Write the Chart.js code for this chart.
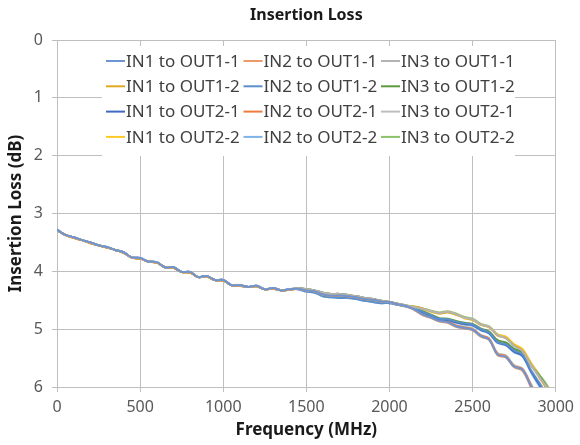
<!DOCTYPE html>
<html>
<head>
<meta charset="utf-8">
<script src="https://cdn.jsdelivr.net/npm/chart.js@4"></script>
<style>
  html, body { margin: 0; padding: 0; background: #fff; }
  #wrap { width: 580px; height: 445px; }
</style>
</head>
<body>
<div id="wrap"><canvas id="lossChart"></canvas></div>
<script>
const freq = [0,50,100,150,200,250,300,350,400,450,500,550,600,650,700,750,800,850,900,950,
  1000,1050,1100,1150,1200,1250,1300,1350,1400,1450,1500,1550,1600,1650,1700,1750,1800,1850,1900,1950,
  2000,2050,2100,2150,2200,2250,2300,2350,2400,2450,2500,2550,2600,2650,2700,2750,2800,2850,2900,2950,3000];

const seriesNames = [
  'IN1 to OUT1-1', 'IN2 to OUT1-1', 'IN3 to OUT1-1',
  'IN1 to OUT1-2', 'IN2 to OUT1-2', 'IN3 to OUT1-2',
  'IN1 to OUT2-1', 'IN2 to OUT2-1', 'IN3 to OUT2-1',
  'IN1 to OUT2-2', 'IN2 to OUT2-2', 'IN3 to OUT2-2'
];

const in1Out11 = [3.28,3.37,3.41,3.46,3.50,3.55,3.58,3.63,3.67,3.76,3.77,3.83,3.84,3.93,3.93,4.01,4.01,4.10,4.08,4.15,4.15,4.24,4.24,4.27,4.25,4.31,4.29,4.33,4.31,
  4.30,4.33,4.35,4.40,4.42,4.42,4.43,4.45,4.48,4.49,4.52,4.53,4.57,4.60,
  4.66,4.75,4.80,4.86,4.88,4.95,4.98,5.01,5.12,5.18,5.44,5.48,5.65,5.70,5.98,6.25,6.50,6.80];
const in2Out11 = [3.29,3.37,3.42,3.46,3.51,3.55,3.59,3.63,3.68,3.76,3.78,3.83,3.85,3.93,3.94,4.01,4.02,4.10,4.09,4.15,4.16,4.24,4.25,4.27,4.26,4.31,4.30,4.33,4.32,
  4.30,4.33,4.35,4.40,4.42,4.42,4.43,4.45,4.48,4.49,4.52,4.53,4.57,4.60,
  4.67,4.76,4.81,4.87,4.89,4.96,4.99,5.02,5.13,5.19,5.45,5.49,5.66,5.72,6.00,6.28,6.55,6.85];
const in3Out11 = [3.28,3.37,3.41,3.46,3.50,3.55,3.58,3.63,3.67,3.76,3.77,3.83,3.84,3.93,3.93,4.01,4.01,4.10,4.08,4.15,4.15,4.24,4.24,4.27,4.25,4.31,4.29,4.33,4.31,
  4.29,4.31,4.33,4.37,4.39,4.39,4.41,4.43,4.46,4.48,4.51,4.53,4.56,4.59,
  4.62,4.65,4.69,4.72,4.70,4.74,4.80,4.83,4.92,4.96,5.10,5.16,5.29,5.38,5.62,5.82,6.02,6.30];
const in1Out12 = [3.29,3.37,3.42,3.46,3.51,3.55,3.59,3.63,3.68,3.76,3.78,3.83,3.85,3.93,3.94,4.01,4.02,4.10,4.09,4.15,4.16,4.24,4.25,4.27,4.26,4.31,4.30,4.33,4.32,
  4.30,4.33,4.35,4.40,4.42,4.42,4.43,4.45,4.48,4.49,4.52,4.53,4.57,4.60,
  4.61,4.64,4.69,4.73,4.71,4.75,4.80,4.84,4.92,4.97,5.11,5.15,5.28,5.37,5.60,5.83,6.05,6.30];
const in2Out12 = [3.28,3.37,3.41,3.46,3.50,3.55,3.58,3.63,3.67,3.76,3.77,3.83,3.84,3.93,3.93,4.01,4.01,4.10,4.08,4.15,4.15,4.24,4.24,4.27,4.25,4.31,4.29,4.33,4.31,
  4.31,4.35,4.37,4.43,4.45,4.46,4.46,4.48,4.51,4.53,4.55,4.55,4.58,4.61,
  4.64,4.70,4.76,4.82,4.83,4.87,4.90,4.92,5.00,5.06,5.22,5.26,5.37,5.44,5.70,5.92,6.15,6.40];
const in3Out12 = [3.29,3.37,3.42,3.46,3.51,3.55,3.59,3.63,3.68,3.76,3.78,3.83,3.85,3.93,3.94,4.01,4.02,4.10,4.09,4.15,4.16,4.24,4.25,4.27,4.26,4.31,4.30,4.33,4.32,
  4.29,4.31,4.33,4.37,4.39,4.39,4.41,4.43,4.46,4.48,4.51,4.53,4.56,4.59,
  4.63,4.69,4.75,4.81,4.82,4.86,4.89,4.91,4.99,5.04,5.19,5.23,5.34,5.40,5.62,5.80,6.02,6.30];
const in1Out21 = [3.28,3.37,3.41,3.46,3.50,3.55,3.58,3.63,3.67,3.76,3.77,3.83,3.84,3.93,3.93,4.01,4.01,4.10,4.08,4.15,4.15,4.24,4.24,4.27,4.25,4.31,4.29,4.33,4.31,
  4.30,4.33,4.35,4.40,4.42,4.42,4.43,4.45,4.48,4.49,4.52,4.53,4.57,4.60,
  4.65,4.71,4.77,4.83,4.84,4.88,4.91,4.93,5.01,5.07,5.23,5.27,5.39,5.46,5.72,5.95,6.20,6.45];
const in2Out21 = [3.29,3.37,3.42,3.46,3.51,3.55,3.59,3.63,3.68,3.76,3.78,3.83,3.85,3.93,3.94,4.01,4.02,4.10,4.09,4.15,4.16,4.24,4.25,4.27,4.26,4.31,4.30,4.33,4.32,
  4.30,4.33,4.35,4.40,4.42,4.42,4.43,4.45,4.48,4.49,4.52,4.53,4.57,4.60,
  4.66,4.74,4.80,4.85,4.87,4.94,4.97,5.00,5.11,5.17,5.43,5.47,5.64,5.69,5.96,6.22,6.50,6.80];
const in3Out21 = [3.28,3.37,3.41,3.46,3.50,3.55,3.58,3.63,3.67,3.76,3.77,3.83,3.84,3.93,3.93,4.01,4.01,4.10,4.08,4.15,4.15,4.24,4.24,4.27,4.25,4.31,4.29,4.33,4.31,
  4.29,4.31,4.33,4.37,4.39,4.39,4.41,4.43,4.46,4.48,4.51,4.53,4.56,4.59,
  4.65,4.73,4.79,4.84,4.86,4.93,4.96,4.99,5.10,5.16,5.41,5.45,5.62,5.68,5.94,6.20,6.45,6.75];
const in1Out22 = [3.29,3.37,3.42,3.46,3.51,3.55,3.59,3.63,3.68,3.76,3.78,3.83,3.85,3.93,3.94,4.01,4.02,4.10,4.09,4.15,4.16,4.24,4.25,4.27,4.26,4.31,4.30,4.33,4.32,
  4.30,4.33,4.35,4.40,4.42,4.42,4.43,4.45,4.48,4.49,4.52,4.53,4.57,4.60,
  4.62,4.66,4.70,4.73,4.70,4.75,4.81,4.84,4.93,4.96,5.09,5.13,5.26,5.34,5.58,5.80,6.05,6.35];
const in2Out22 = [3.28,3.37,3.41,3.46,3.50,3.55,3.58,3.63,3.67,3.76,3.77,3.83,3.84,3.93,3.93,4.01,4.01,4.10,4.08,4.15,4.15,4.24,4.24,4.27,4.25,4.31,4.29,4.33,4.31,
  4.31,4.35,4.37,4.43,4.45,4.46,4.46,4.48,4.51,4.53,4.55,4.55,4.58,4.61,
  4.65,4.71,4.77,4.83,4.84,4.89,4.92,4.94,5.02,5.08,5.24,5.28,5.40,5.47,5.74,5.98,6.22,6.50];
const in3Out22 = [3.29,3.37,3.42,3.46,3.51,3.55,3.59,3.63,3.68,3.76,3.78,3.83,3.85,3.93,3.94,4.01,4.02,4.10,4.09,4.15,4.16,4.24,4.25,4.27,4.26,4.31,4.30,4.33,4.32,
  4.29,4.31,4.33,4.37,4.39,4.39,4.41,4.43,4.46,4.48,4.51,4.53,4.56,4.59,
  4.61,4.64,4.68,4.71,4.69,4.73,4.79,4.82,4.91,4.95,5.09,5.15,5.28,5.36,5.58,5.78,5.98,6.25];

const allSeries = [in1Out11, in2Out11, in3Out11, in1Out12, in2Out12, in3Out12,
  in1Out21, in2Out21, in3Out21, in1Out22, in2Out22, in3Out22];

const lineColors = ['#6F95D1', '#EE9A66', '#B4B4B4', '#E0AA20', '#5A8FCB', '#5F9A3E',
  '#4169C0', '#EE7A3C', '#BDBDBD', '#FFC928', '#7DB3E6', '#8BC26A'];

const FONT = '"Noto Sans", "DejaVu Sans", sans-serif';
const gridGrey = '#BFBFBF';

// title + legend box drawn inside the plot area, like the Excel original
const insideLegend = {
  id: 'insideLegend',
  beforeDatasetsDraw(chart) {
    const { ctx, chartArea: a } = chart;
    ctx.save();
    ctx.fillStyle = '#fff';
    ctx.fillRect(a.left + 45, a.top + 6, 413, 110);
    ctx.font = '17px ' + FONT;
    ctx.textBaseline = 'middle';
    ctx.textAlign = 'left';
    chart.data.datasets.forEach((ds, i) => {
      const col = i % 3, row = Math.floor(i / 3);
      const x = a.left + 49 + col * 137.5;
      const y = a.top + 21 + row * 25.3;
      ctx.strokeStyle = ds.borderColor;
      ctx.lineWidth = 2;
      ctx.beginPath();
      ctx.moveTo(x, y);
      ctx.lineTo(x + 19, y);
      ctx.stroke();
      ctx.fillStyle = '#404040';
      ctx.fillText(ds.label, x + 20, y + 1);
    });
    ctx.restore();
  },
  afterDraw(chart) {
    const { ctx, chartArea: a } = chart;
    ctx.save();
    ctx.font = 'bold 16px ' + FONT;
    ctx.fillStyle = '#1a1a1a';
    ctx.textAlign = 'center';
    ctx.textBaseline = 'middle';
    ctx.fillText('Insertion Loss', (a.left + a.right) / 2, 15);
    ctx.restore();
  }
};

new Chart(document.getElementById('lossChart'), {
  type: 'line',
  data: {
    datasets: allSeries.map((vals, i) => ({
      label: seriesNames[i],
      data: vals.map((v, j) => ({ x: freq[j], y: v })),
      borderColor: lineColors[i],
      backgroundColor: lineColors[i],
      borderWidth: 2,
      pointRadius: 0,
      tension: 0.35,
      fill: false
    }))
  },
  options: {
    responsive: true,
    maintainAspectRatio: false,
    animation: false,
    devicePixelRatio: 1,
    layout: { padding: { top: 40, right: 20, left: 0, bottom: 0 } },
    plugins: {
      legend: { display: false },
      title: { display: false },
      tooltip: { enabled: false }
    },
    scales: {
      x: {
        type: 'linear',
        min: 0,
        max: 3000,
        ticks: { stepSize: 500, color: '#595959', font: { family: FONT, size: 16 }, padding: 6, maxRotation: 0,
          callback: v => String(v) },
        grid: { color: gridGrey, lineWidth: 1, tickLength: 5 },
        border: { color: gridGrey },
        title: { display: true, text: 'Frequency (MHz)', color: '#1a1a1a',
          font: { family: FONT, size: 17, weight: 'bold' }, padding: { top: 0, bottom: 5 } },
        afterFit(s) { s.height = 58; }
      },
      y: {
        reverse: true,
        min: 0,
        max: 6,
        ticks: { stepSize: 1, color: '#595959', font: { family: FONT, size: 16 }, padding: 9 },
        grid: { color: gridGrey, lineWidth: 1, tickLength: 5 },
        border: { color: gridGrey },
        title: { display: true, text: 'Insertion Loss (dB)', color: '#1a1a1a',
          font: { family: FONT, size: 17, weight: 'bold' }, padding: { top: 6, bottom: 0 } },
        afterFit(s) { s.width = 57; }
      }
    }
  },
  plugins: [insideLegend]
});
</script>
</body>
</html>
